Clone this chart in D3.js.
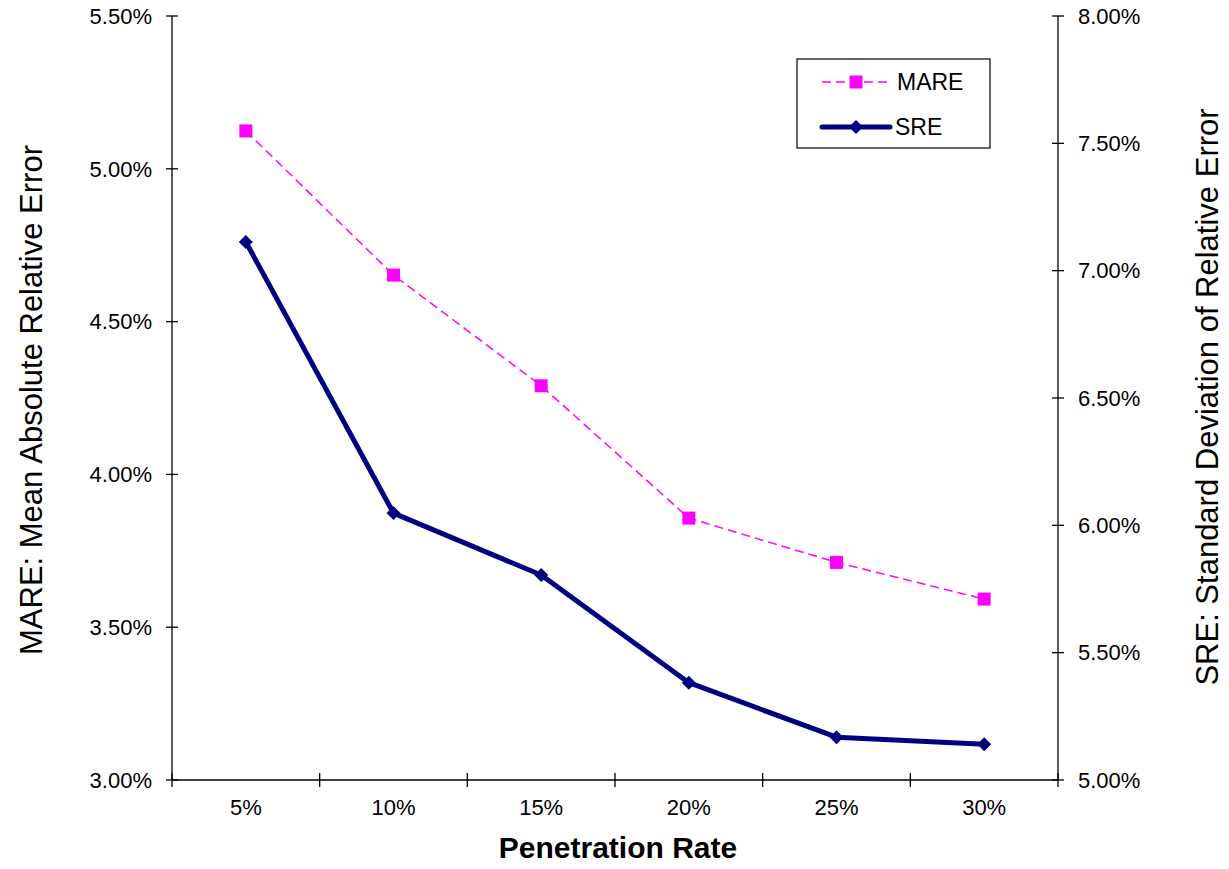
<!DOCTYPE html>
<html>
<head>
<meta charset="utf-8">
<script src="https://cdn.jsdelivr.net/npm/d3@7"></script>
<style>
  html, body { margin: 0; padding: 0; background: #fff; }
  svg { display: block; font-family: "Liberation Sans", Arial, sans-serif; }
</style>
</head>
<body>
<svg id="chart" width="1229" height="869"></svg>
<script>
// Penetration rate categories and the two error series
const categories = ["5%", "10%", "15%", "20%", "25%", "30%"];
const mareValues = [5.124, 4.652, 4.29, 3.857, 3.712, 3.592];   // left axis, %
const sreValues  = [7.113, 6.048, 5.805, 5.382, 5.168, 5.140];  // right axis, %
const leftTicks  = [3.0, 3.5, 4.0, 4.5, 5.0, 5.5];
const rightTicks = [5.0, 5.5, 6.0, 6.5, 7.0, 7.5, 8.0];
const seriesNames = ["MARE", "SRE"];

const svg = d3.select("#chart");
const plot = { left: 172, right: 1058, top: 16, bottom: 780 };

const x = d3.scaleBand().domain(categories).range([plot.left, plot.right]);
const yL = d3.scaleLinear().domain([3.0, 5.5]).range([plot.bottom, plot.top]);
const yR = d3.scaleLinear().domain([5.0, 8.0]).range([plot.bottom, plot.top]);

const fmt = d => d.toFixed(2) + "%";
const axisColor = "#000";
const tickFont = 22;

// Left axis with crossing ticks
const gL = svg.append("g");
gL.append("line").attr("x1", plot.left).attr("x2", plot.left)
  .attr("y1", plot.top).attr("y2", plot.bottom).attr("stroke", axisColor).attr("stroke-width", 1.3);
gL.selectAll("line.t").data(leftTicks).join("line").attr("class", "t")
  .attr("x1", plot.left - 6).attr("x2", plot.left + 6)
  .attr("y1", d => yL(d)).attr("y2", d => yL(d)).attr("stroke", axisColor).attr("stroke-width", 1.3);
gL.selectAll("text").data(leftTicks).join("text")
  .attr("x", plot.left - 20).attr("y", d => yL(d)).attr("dy", "0.35em")
  .attr("text-anchor", "end").attr("font-size", tickFont).text(fmt);

// Right axis
const gR = svg.append("g");
gR.append("line").attr("x1", plot.right).attr("x2", plot.right)
  .attr("y1", plot.top).attr("y2", plot.bottom).attr("stroke", axisColor).attr("stroke-width", 1.3);
gR.selectAll("line.t").data(rightTicks).join("line").attr("class", "t")
  .attr("x1", plot.right - 6).attr("x2", plot.right + 6)
  .attr("y1", d => yR(d)).attr("y2", d => yR(d)).attr("stroke", axisColor).attr("stroke-width", 1.3);
gR.selectAll("text").data(rightTicks).join("text")
  .attr("x", plot.right + 20).attr("y", d => yR(d)).attr("dy", "0.35em")
  .attr("text-anchor", "start").attr("font-size", tickFont).text(fmt);

// Bottom axis: ticks on category boundaries, labels centred in bands
const gX = svg.append("g");
gX.append("line").attr("x1", plot.left).attr("x2", plot.right)
  .attr("y1", plot.bottom).attr("y2", plot.bottom).attr("stroke", axisColor).attr("stroke-width", 1.3);
const bounds = categories.map(c => x(c)).concat([plot.right]);
gX.selectAll("line.t").data(bounds).join("line").attr("class", "t")
  .attr("x1", d => d).attr("x2", d => d)
  .attr("y1", plot.bottom - 7).attr("y2", plot.bottom + 7).attr("stroke", axisColor).attr("stroke-width", 1.3);
gX.selectAll("text").data(categories).join("text")
  .attr("x", d => x(d) + x.bandwidth() / 2).attr("y", plot.bottom + 35)
  .attr("text-anchor", "middle").attr("font-size", tickFont).text(d => d);

// Axis titles
svg.append("text").attr("x", 618).attr("y", 858).attr("text-anchor", "middle")
  .attr("font-size", 30).attr("font-weight", "bold").text("Penetration Rate");
svg.append("text").attr("transform", "translate(42,400) rotate(-90)")
  .attr("text-anchor", "middle").attr("font-size", 31).text("MARE: Mean Absolute Relative Error");
svg.append("text").attr("transform", "translate(1218,397) rotate(-90)")
  .attr("text-anchor", "middle").attr("font-size", 31).text("SRE: Standard Deviation of Relative Error");

const cx = c => x(c) + x.bandwidth() / 2;

// MARE: dashed magenta line with square markers
const mare = categories.map((c, i) => ({ c, v: mareValues[i] }));
svg.append("path").datum(mare)
  .attr("d", d3.line().x(d => cx(d.c)).y(d => yL(d.v)))
  .attr("fill", "none").attr("stroke", "#ff00ff").attr("stroke-width", 1.5)
  .attr("stroke-dasharray", "9,5");
svg.selectAll("rect.mare").data(mare).join("rect").attr("class", "mare")
  .attr("x", d => cx(d.c) - 6.5).attr("y", d => yL(d.v) - 6.5)
  .attr("width", 13).attr("height", 13).attr("fill", "#ff00ff");

// SRE: thick navy line with diamond markers
const sre = categories.map((c, i) => ({ c, v: sreValues[i] }));
svg.append("path").datum(sre)
  .attr("d", d3.line().x(d => cx(d.c)).y(d => yR(d.v)))
  .attr("fill", "none").attr("stroke", "#000080").attr("stroke-width", 5)
  .attr("stroke-linejoin", "round");
const diamond = "M0,-7L7,0L0,7L-7,0Z";
svg.selectAll("path.sre").data(sre).join("path").attr("class", "sre")
  .attr("transform", d => `translate(${cx(d.c)},${yR(d.v)})`)
  .attr("d", diamond).attr("fill", "#000080");

// Legend
const lg = svg.append("g");
lg.append("rect").attr("x", 797).attr("y", 59).attr("width", 193).attr("height", 89)
  .attr("fill", "#fff").attr("stroke", "#000").attr("stroke-width", 1.2);
lg.append("line").attr("x1", 822).attr("x2", 890).attr("y1", 82).attr("y2", 82)
  .attr("stroke", "#ff00ff").attr("stroke-width", 1.5).attr("stroke-dasharray", "9,5");
lg.append("rect").attr("x", 849.5).attr("y", 75.5).attr("width", 13).attr("height", 13).attr("fill", "#ff00ff");
lg.append("text").attr("x", 897).attr("y", 82).attr("dy", "0.35em").attr("font-size", 23).text(seriesNames[0]);
lg.append("line").attr("x1", 822).attr("x2", 890).attr("y1", 127).attr("y2", 127)
  .attr("stroke", "#000080").attr("stroke-width", 5).attr("stroke-linecap", "round");
lg.append("path").attr("transform", "translate(856,127)").attr("d", diamond).attr("fill", "#000080");
lg.append("text").attr("x", 895).attr("y", 127).attr("dy", "0.35em").attr("font-size", 23).text(seriesNames[1]);
</script>
</body>
</html>
